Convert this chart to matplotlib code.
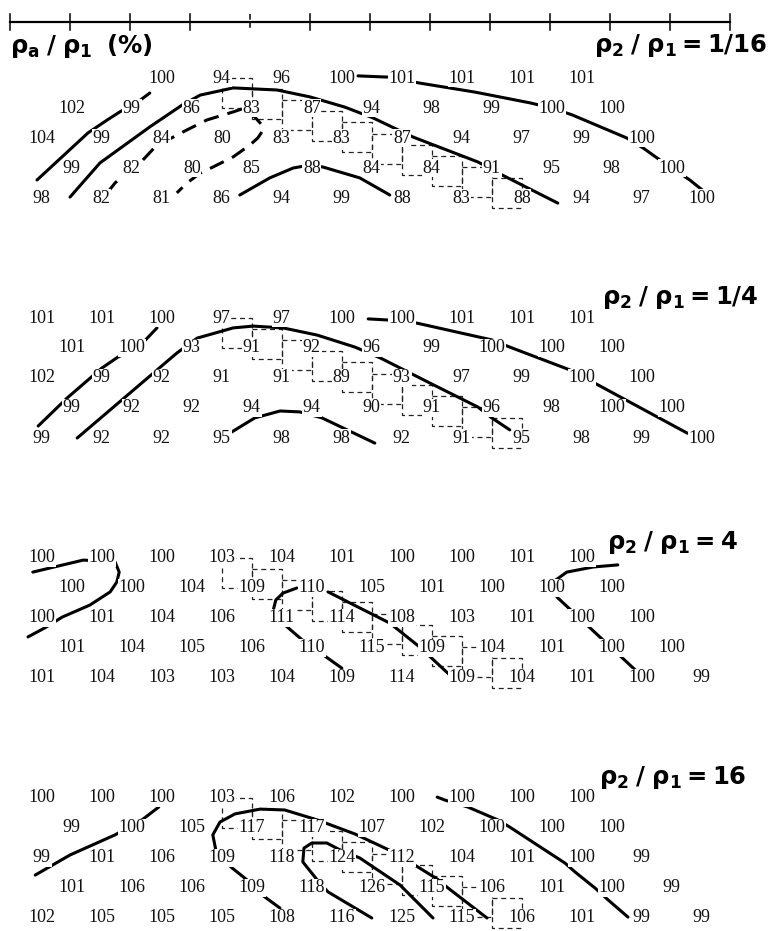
import matplotlib
matplotlib.use("Agg")
import matplotlib.pyplot as plt

plt.rcParams['mathtext.fontset'] = 'custom'
plt.rcParams['mathtext.rm'] = 'DejaVu Sans:bold'
plt.rcParams['mathtext.it'] = 'DejaVu Sans:bold'
plt.rcParams['mathtext.bf'] = 'DejaVu Sans:bold'

# apparent resistivity values, 5 levels per section (ρa/ρ1 in %)
sec_1_16 = [[100, 94, 96, 100, 101, 101, 101, 101],
            [102, 99, 86, 83, 87, 94, 98, 99, 100, 100],
            [104, 99, 84, 80, 83, 83, 87, 94, 97, 99, 100],
            [99, 82, 80, 85, 88, 84, 84, 91, 95, 98, 100],
            [98, 82, 81, 86, 94, 99, 88, 83, 88, 94, 97, 100]]
sec_1_4 = [[101, 101, 100, 97, 97, 100, 100, 101, 101, 101],
           [101, 100, 93, 91, 92, 96, 99, 100, 100, 100],
           [102, 99, 92, 91, 91, 89, 93, 97, 99, 100, 100],
           [99, 92, 92, 94, 94, 90, 91, 96, 98, 100, 100],
           [99, 92, 92, 95, 98, 98, 92, 91, 95, 98, 99, 100]]
sec_4 = [[100, 100, 100, 103, 104, 101, 100, 100, 101, 100],
         [100, 100, 104, 109, 110, 105, 101, 100, 100, 100],
         [100, 101, 104, 106, 111, 114, 108, 103, 101, 100, 100],
         [101, 104, 105, 106, 110, 115, 109, 104, 101, 100, 100],
         [101, 104, 103, 103, 104, 109, 114, 109, 104, 101, 100, 99]]
sec_16 = [[100, 100, 100, 103, 106, 102, 100, 100, 100, 100],
          [99, 100, 105, 117, 117, 107, 102, 100, 100, 100],
          [99, 101, 106, 109, 118, 124, 112, 104, 101, 100, 99],
          [101, 106, 106, 109, 118, 126, 115, 106, 101, 100, 99],
          [102, 105, 105, 105, 108, 116, 125, 115, 106, 101, 99, 99]]

sections = [sec_1_16, sec_1_4, sec_4, sec_16]
row_start = [[2, 0, 0, 0, 0], [0] * 5, [0] * 5, [0] * 5]   # first column of each level
titles = ['1/16', '1/4', '4', '16']
title_dy = [-1.07, -0.67, -0.5, -0.67]
title_right = [12.62, 12.47, 12.13, 12.28]

# hand drawn iso-lines, (x in electrode spacings, level) per section
iso_1_16 = [
    ('-', [(0.45, 3.4), (1.3, 1.83), (1.62, 1.4), (1.83, 1.13), (2.13, 0.8), (2.33, 0.5)]),
    ('-', [(1.0, 3.97), (1.5, 2.83), (2.33, 1.63), (2.87, 0.9), (3.17, 0.57), (3.72, 0.33),
           (4.45, 0.4), (5.0, 0.63), (5.58, 0.97), (6.05, 1.33), (6.72, 1.97), (7.8, 2.8),
           (8.2, 3.23), (9.13, 4.17)]),
    ('--', [(1.62, 3.83), (1.75, 3.5), (2.0, 3.07), (2.17, 2.83), (2.45, 2.23), (2.72, 1.97),
            (2.95, 1.73), (3.28, 1.4), (3.72, 1.13), (3.87, 1.03), (4.08, 1.3), (4.2, 1.57),
            (4.22, 1.73), (4.13, 2.0), (4.0, 2.23), (3.72, 2.63), (3.38, 2.97), (3.17, 3.17),
            (2.95, 3.5), (2.78, 3.83)]),
    ('-', [(3.83, 3.9), (4.33, 3.33), (4.72, 3.0), (5.0, 2.9), (5.22, 2.97), (5.83, 3.33), (6.33, 3.9)]),
    ('-', [(5.8, -0.07), (6.3, -0.03), (6.83, 0.17), (7.75, 0.47), (8.67, 0.83), (9.03, 1.0),
           (9.37, 1.23), (10.28, 2.0), (10.55, 2.33), (10.83, 2.73), (11.33, 3.4), (11.58, 3.8)]),
]
iso_1_4 = [
    ('-', [(0.47, 3.6), (0.95, 2.67), (1.53, 1.67), (1.8, 1.3), (2.13, 1.0), (2.45, 0.33)]),
    ('-', [(1.12, 4.0), (2.78, 1.17), (3.12, 0.67), (3.72, 0.33), (4.05, 0.27), (4.55, 0.33),
           (5.12, 0.57), (5.75, 0.97), (6.17, 1.33), (7.0, 2.17), (7.8, 2.97), (8.03, 3.33),
           (8.33, 3.73)]),
    ('-', [(3.67, 3.83), (4.08, 3.33), (4.5, 3.1), (4.83, 3.13), (5.2, 3.33), (6.08, 4.17)]),
    ('-', [(5.97, 0.03), (6.33, 0.07), (6.78, 0.17), (8.03, 0.73), (8.33, 0.97), (9.33, 1.73),
           (9.8, 2.23), (11.28, 3.83), (11.53, 4.0)]),
]
iso_4 = [
    ('-', [(0.38, 0.47), (1.22, 0.07), (1.75, 0.13), (1.82, 0.47), (1.78, 0.8), (1.67, 1.13),
           (1.33, 1.57), (0.87, 1.97), (0.58, 2.33), (0.3, 2.63)]),
    ('-', [(4.38, 1.8), (4.43, 1.4), (4.55, 1.17), (4.78, 1.0)]),
    ('-', [(5.3, 1.13), (6.33, 2.17), (6.83, 2.97), (7.33, 3.9)]),
    ('-', [(4.58, 2.23), (4.87, 2.73), (5.22, 3.23), (5.53, 3.67)]),
    ('-', [(10.13, 0.23), (9.72, 0.3), (9.28, 0.47), (9.05, 0.8), (9.03, 1.07), (9.13, 1.33),
           (10.42, 3.73)]),
]
iso_16 = [
    ('-', [(0.42, 2.57), (1.0, 1.9), (1.75, 1.23), (2.2, 0.73), (2.48, 0.3)]),
    ('-', [(4.5, 3.67), (4.2, 3.23), (3.95, 2.73), (3.7, 2.33), (3.53, 2.0), (3.43, 1.73),
           (3.38, 1.23), (3.5, 0.8), (3.75, 0.53), (4.17, 0.37), (4.58, 0.4), (5.12, 0.73),
           (5.75, 1.2), (6.42, 1.83), (7.12, 2.7), (7.3, 3.0), (7.95, 4.0)]),
    ('-', [(6.03, 4.0), (5.3, 3.13), (5.12, 2.73), (4.88, 2.13), (4.9, 1.67), (5.03, 1.5),
           (5.28, 1.5), (5.5, 1.73), (5.83, 2.0), (6.5, 2.9), (7.05, 4.0)]),
    ('-', [(7.12, -0.03), (7.25, 0.07), (7.63, 0.3), (8.13, 0.73), (8.33, 0.97), (9.25, 2.17),
           (9.42, 2.47), (9.75, 3.0), (9.97, 3.4), (10.3, 3.97)]),
]
isolines = [iso_1_16, iso_1_4, iso_4, iso_16]

n_electrodes = 13
box_x0, box_w, box_step_y, box_h, n_boxes = 3.53, 0.5, 0.37, 1.0, 10

fig = plt.figure(figsize=(7.71, 9.31), dpi=100)
ax = fig.add_axes([0, 0, 1, 1])
ax.set_xlim(-10 / 60, 761 / 60)
ax.set_ylim(853 / 30, -78 / 30)
ax.axis('off')

# electrode line on top
bar_y = -56 / 30
ax.plot([0, n_electrodes - 1], [bar_y, bar_y], color='black', lw=1.6)
for e in range(n_electrodes):
    ls = '--' if e == 4 else '-'
    ax.plot([e, e], [bar_y - 0.27, bar_y + 0.27], color='black', lw=1.1, ls=ls)

ax.text(0, -1.07, r'$\rho_a\;/\;\rho_1\;\;(\%)$', fontsize=17.5, ha='left', va='center')

for s, vals in enumerate(sections):
    base = 8 * s
    ax.text(title_right[s], base + title_dy[s], r'$\rho_2\;/\;\rho_1 = %s$' % titles[s],
            fontsize=17.5, ha='right', va='center')
    # body outline, staircase of dashed boxes
    for i in range(n_boxes):
        x0 = box_x0 + box_w * i
        y0 = base + box_step_y * i
        ax.plot([x0, x0 + box_w, x0 + box_w, x0, x0], [y0, y0, y0 + box_h, y0 + box_h, y0],
                color='#222222', lw=0.9, ls=(0, (4, 3)), zorder=2)
    for style, pts in isolines[s]:
        xs = [p[0] for p in pts]
        ys = [base + p[1] for p in pts]
        ax.plot(xs, ys, color='black', lw=2.2, ls=(0, (5, 3)) if style == '--' else '-',
                solid_capstyle='round', zorder=3)
    for r, row in enumerate(vals):
        for k, v in enumerate(row):
            x = 0.53 + 0.5 * (r % 2) + row_start[s][r] + k
            ax.text(x, base + r, str(v), fontsize=13, family='Liberation Serif',
                    ha='center', va='center', color='#111111', zorder=5,
                    bbox=dict(fc='white', ec='none', pad=0.5))

fig.savefig('out.png', dpi=100)
